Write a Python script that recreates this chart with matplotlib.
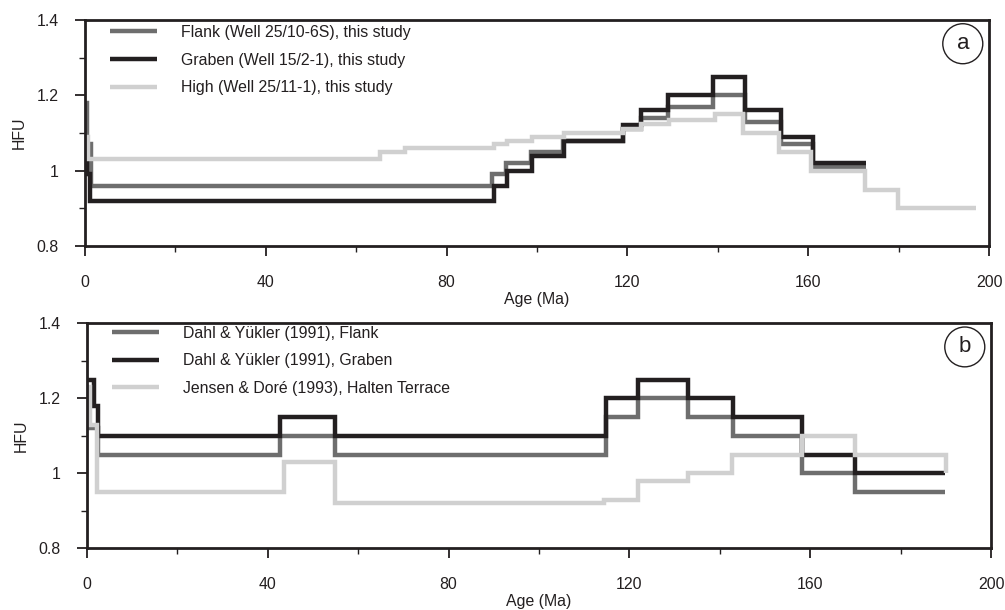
import matplotlib
matplotlib.use("Agg")
import matplotlib.pyplot as plt
from matplotlib.patches import Ellipse
from matplotlib.ticker import MultipleLocator, FuncFormatter

plt.rcParams['font.family'] = ['Liberation Sans', 'DejaVu Sans']

# ---------------- Data (panel a) ----------------
age_flank_a = [0, 0.5, 1.3, 90.0, 93.1, 98.7, 105.7, 119.0, 123.0, 129.0, 139.0, 146.0, 154.0, 161.0, 172.7]
hfu_flank_a = [1.18, 1.07, 0.96, 0.99, 1.02, 1.05, 1.08, 1.11, 1.14, 1.17, 1.20, 1.13, 1.07, 1.01, 1.01]

age_graben_a = [0, 0.4, 1.0, 90.5, 93.3, 98.8, 106.0, 119.0, 123.0, 129.0, 139.0, 146.0, 154.0, 161.0, 172.7]
hfu_graben_a = [1.05, 0.99, 0.92, 0.96, 1.00, 1.04, 1.08, 1.12, 1.16, 1.20, 1.25, 1.16, 1.09, 1.02, 1.02]

age_high_a = [0, 0.6, 65.3, 70.8, 90.5, 93.3, 98.8, 106.0, 119.0, 123.0, 129.3, 139.3, 145.5, 153.6, 160.7, 172.5, 179.8, 197.2]
hfu_high_a = [1.09, 1.03, 1.05, 1.06, 1.07, 1.08, 1.09, 1.10, 1.11, 1.125, 1.135, 1.15, 1.10, 1.05, 1.00, 0.95, 0.90, 0.90]

labels_a = ["Flank (Well 25/10-6S), this study",
            "Graben (Well 15/2-1), this study",
            "High (Well 25/11-1), this study"]

# ---------------- Data (panel b) ----------------
age_flank_b = [0, 0.3, 2.5, 42.8, 54.9, 114.9, 122.0, 132.9, 143.0, 158.2, 170.0, 189.9]
hfu_flank_b = [1.20, 1.12, 1.05, 1.10, 1.05, 1.15, 1.20, 1.15, 1.10, 1.00, 0.95, 0.95]

age_graben_b = [0, 1.5, 2.5, 42.8, 54.9, 114.9, 122.0, 132.9, 143.0, 158.2, 170.0, 189.9]
hfu_graben_b = [1.25, 1.18, 1.10, 1.15, 1.10, 1.20, 1.25, 1.20, 1.15, 1.05, 1.00, 1.00]

age_halten_b = [0, 0.6, 2.3, 43.6, 54.9, 114.4, 121.8, 133.0, 142.7, 158.2, 170.0, 190.0]
hfu_halten_b = [1.23, 1.13, 0.95, 1.03, 0.92, 0.93, 0.98, 1.00, 1.05, 1.10, 1.05, 1.00]

labels_b = ["Dahl & Yükler (1991), Flank",
            "Dahl & Yükler (1991), Graben",
            "Jensen & Doré (1993), Halten Terrace"]

x_ticks = [0, 40, 80, 120, 160, 200]
y_ticks = [0.8, 1.0, 1.2, 1.4]

c_flank = "#6e6e6e"
c_graben = "#231f20"
c_high = "#d0d0d0"
txt = "#231f20"
LW = 3.2
FS = 11.4

fig = plt.figure(figsize=(10.05, 6.10), dpi=100)
ax_a = fig.add_axes([85/1005, 1-246/610, 904/1005, 226/610])
ax_b = fig.add_axes([87/1005, 1-548.3/610, 904/1005, 225/610])


def style(ax, letter):
    ax.set_xlim(0, 200)
    ax.set_ylim(0.8, 1.4)
    ax.set_xticks(x_ticks)
    ax.set_yticks(y_ticks)
    ax.xaxis.set_minor_locator(MultipleLocator(20))
    ax.yaxis.set_minor_locator(MultipleLocator(0.1))
    ax.yaxis.set_major_formatter(FuncFormatter(lambda v, p: f"{v:g}"))
    ax.tick_params(which='major', direction='out', length=7, width=1.3,
                   colors=txt, labelsize=FS, top=False, right=False)
    ax.tick_params(which='minor', direction='out', length=4, width=1.0,
                   colors=txt, top=False, right=False)
    ax.tick_params(axis='x', which='major', pad=14)
    ax.tick_params(axis='y', which='major', pad=12)
    for s in ax.spines.values():
        s.set_linewidth(2.0)
        s.set_color(txt)
    ax.set_xlabel("Age (Ma)", fontsize=FS, color=txt, labelpad=1)
    ax.set_ylabel("HFU", fontsize=FS, color=txt, labelpad=7)
    e = Ellipse((0.971, 0.895), width=40/904, height=40/226, transform=ax.transAxes,
                facecolor='none', edgecolor=txt, linewidth=1.0, zorder=5)
    ax.add_patch(e)
    ax.text(0.971, 0.895, letter, transform=ax.transAxes, ha='center', va='center',
            fontsize=16, color=txt, zorder=6)


def draw(ax, ages, vals, color, label):
    ax.plot(ages, vals, drawstyle='steps-post', color=color, lw=LW,
            solid_joinstyle='miter', solid_capstyle='butt', label=label)


draw(ax_a, age_flank_a, hfu_flank_a, c_flank, labels_a[0])
draw(ax_a, age_graben_a, hfu_graben_a, c_graben, labels_a[1])
draw(ax_a, age_high_a, hfu_high_a, c_high, labels_a[2])

draw(ax_b, age_flank_b, hfu_flank_b, c_flank, labels_b[0])
draw(ax_b, age_graben_b, hfu_graben_b, c_graben, labels_b[1])
draw(ax_b, age_halten_b, hfu_halten_b, c_high, labels_b[2])

style(ax_a, "a")
style(ax_b, "b")

for ax, ytop in ((ax_a, 0.978), (ax_b, 0.990)):
    leg = ax.legend(loc='upper left', bbox_to_anchor=(25/904, ytop), frameon=False,
                    fontsize=FS, handlelength=2.95, handletextpad=1.55,
                    labelspacing=0.8, borderpad=0, borderaxespad=0)
    for t in leg.get_texts():
        t.set_color(txt)

fig.savefig("out.png", dpi=100)
